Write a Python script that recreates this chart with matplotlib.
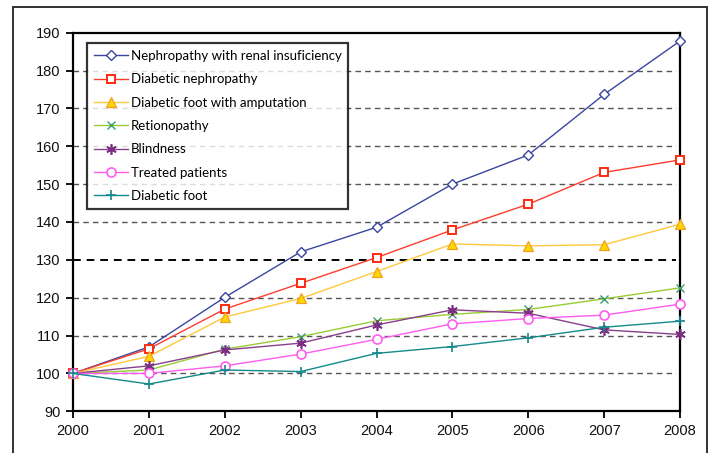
import matplotlib.pyplot as plt
from matplotlib.patches import Rectangle

years = [2000, 2001, 2002, 2003, 2004, 2005, 2006, 2007, 2008]

nephro_renal = [100, 107.0, 120.1, 132.1, 138.6, 150.0, 157.7, 173.7, 187.8]
diab_nephro = [100, 106.5, 117.0, 123.8, 130.6, 137.9, 144.7, 153.1, 156.4]
foot_amput = [100, 104.5, 114.9, 119.8, 126.9, 134.2, 133.7, 134.0, 139.4]
retinopathy = [100, 100.9, 106.4, 109.7, 113.9, 115.6, 116.9, 119.7, 122.6]
blindness = [100, 102.0, 106.2, 108.0, 112.8, 116.8, 115.9, 111.5, 110.3]
treated = [100, 100.0, 102.0, 105.1, 109.0, 113.1, 114.5, 115.4, 118.3]
diab_foot = [100, 97.2, 100.9, 100.5, 105.3, 107.1, 109.4, 112.2, 113.8]

labels = [
    'Nephropathy with renal insuficiency',
    'Diabetic nephropathy',
    'Diabetic foot with amputation',
    'Retionopathy',
    'Blindness',
    'Treated patients',
    'Diabetic foot',
]

fig = plt.figure(figsize=(7.11, 4.53), dpi=100)
ax = fig.add_axes([0.1027, 0.0921, 0.8537, 0.8357])

# outer frame around the whole chart (bottom edge runs off the page)
fig.patches.append(Rectangle((0.0183, -0.1), 0.9761, 1.0845, transform=fig.transFigure,
                             fill=False, edgecolor='#222222', linewidth=1.3))

# horizontal dashed grid, the 130 line drawn darker
for y in [100, 110, 120, 140, 150, 160, 170, 180]:
    ax.plot([2000, 2007.95], [y, y], ls=(0, (4, 3)), color='#555555', lw=1.0, zorder=1)
ax.plot([2000, 2007.95], [130, 130], ls=(0, (4, 3)), color='black', lw=1.4, zorder=1)

common = dict(lw=1.0, zorder=3, clip_on=False)
ax.plot(years, nephro_renal, color='#3A46A0', marker='D', ms=4.8,
        mfc='white', mec='#3A46A0', mew=1.0, label=labels[0], **common)
ax.plot(years, diab_nephro, color='#FF3C2E', marker='s', ms=5.6,
        mfc='white', mec='#FF2A10', mew=1.4, label=labels[1], **common)
ax.plot(years, foot_amput, color='#FFC83C', marker='^', ms=7,
        mfc='#FFD700', mec='#F0A020', mew=0.9, label=labels[2], **common)
ax.plot(years, retinopathy, color='#99CC33', marker='x', ms=6,
        mfc='none', mec='#3E9A70', mew=1.0, label=labels[3], **common)
ax.plot(years, blindness, color='#8A3E8E', marker=(6, 2, 0), ms=7.5,
        mec='#7A2E80', mew=1.2, label=labels[4], **common)
ax.plot(years, treated, color='#FF5CF0', marker='o', ms=6.5,
        mfc='white', mec='#FF5CF0', mew=1.2, label=labels[5], **common)
ax.plot(years, diab_foot, color='#13898A', marker='+', ms=7.5,
        mec='#13898A', mew=1.2, label=labels[6], **common)

ax.set_xlim(2000, 2008)
ax.set_ylim(90, 190)
ax.set_xticks(years)
ax.set_yticks(range(90, 191, 10))
for s in ax.spines.values():
    s.set_linewidth(1.6)
    s.set_color('black')
    s.set_zorder(2)
ax.tick_params(axis='both', direction='out', length=5, width=1.3, labelsize=10.5, pad=4)
for lab in ax.get_xticklabels() + ax.get_yticklabels():
    lab.set_family('Liberation Sans')
    lab.set_color('#111111')

leg = ax.legend(loc='upper left', bbox_to_anchor=(0.0235, 0.972), frameon=True, fancybox=False,
                prop={'family': 'Lato', 'size': 9.5}, handlelength=2.6, handletextpad=0.2,
                labelspacing=0.86, borderpad=0.5, borderaxespad=0)
leg.get_frame().set_edgecolor('black')
leg.get_frame().set_linewidth(1.6)
leg.set_zorder(5)

fig.savefig('out.png', dpi=100)
